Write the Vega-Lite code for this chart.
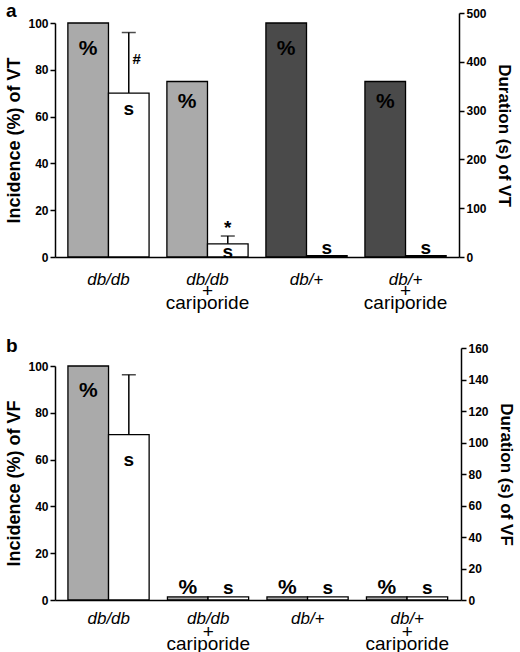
{
  "$schema": "https://vega.github.io/schema/vega-lite/v6.json",
  "background": "white",
  "padding": {"left": 5, "top": 2, "right": 0, "bottom": 0},
  "spacing": 25,
  "config": {
    "view": {"stroke": null},
    "font": "Liberation Sans",
    "axis": {
      "grid": false,
      "domainColor": "black",
      "domainWidth": 1.5,
      "tickColor": "black",
      "tickWidth": 1.5,
      "tickSize": 5,
      "labelColor": "black",
      "labelFont": "Liberation Sans",
      "labelFontWeight": "bold",
      "labelFontSize": 12,
      "titleFont": "Liberation Sans",
      "titleFontWeight": "bold",
      "titleFontSize": 18,
      "titleColor": "black"
    },
    "title": {"font": "Liberation Sans", "fontSize": 19, "fontWeight": "bold", "color": "black", "anchor": "start", "frame": "bounds"}
  },
  "datasets": {
    "a": [
      {"group": "db/db", "series": "Incidence", "value": 100},
      {"group": "db/db", "series": "Duration", "value": 336, "upper": 460, "sig": "#"},
      {"group": "db/db + cariporide", "series": "Incidence", "value": 75},
      {"group": "db/db + cariporide", "series": "Duration", "value": 27, "upper": 43, "sig": "*"},
      {"group": "db/+", "series": "Incidence", "value": 100},
      {"group": "db/+", "series": "Duration", "value": 3},
      {"group": "db/+ + cariporide", "series": "Incidence", "value": 75},
      {"group": "db/+ + cariporide", "series": "Duration", "value": 3}
    ],
    "b": [
      {"group": "db/db", "series": "Incidence", "value": 100},
      {"group": "db/db", "series": "Duration", "value": 105, "upper": 143},
      {"group": "db/db + cariporide", "series": "Incidence", "value": 1.3},
      {"group": "db/db + cariporide", "series": "Duration", "value": 2},
      {"group": "db/+", "series": "Incidence", "value": 1.3},
      {"group": "db/+", "series": "Duration", "value": 2},
      {"group": "db/+ + cariporide", "series": "Incidence", "value": 1.3},
      {"group": "db/+ + cariporide", "series": "Duration", "value": 2}
    ]
  },
  "vconcat": [
    {
      "width": 404,
      "height": 244,
      "title": {"text": "a", "offset": -14},
      "data": {"name": "a"},
      "layer": [
        {
          "transform": [{"filter": "datum.series === 'Incidence'"}],
          "encoding": {
            "x": {"field": "group", "type": "nominal", "sort": ["db/db", "db/db + cariporide", "db/+", "db/+ + cariporide"],
              "scale": {"paddingInner": 0.18, "paddingOuter": 0.13},
              "axis": {"orient": "bottom", "title": null, "ticks": false, "tickSize": 0, "labelAngle": 0, "labelFontStyle": "italic", "labelFontWeight": "normal", "labelFontSize": 17, "labelPadding": 14, "labelExpr": "split(datum.label, ' + ')[0]"}},
            "xOffset": {"field": "series", "type": "nominal", "sort": ["Incidence", "Duration"], "scale": {"paddingInner": 0, "paddingOuter": 0}},
            "y": {"field": "value", "type": "quantitative", "scale": {"domain": [0, 100], "rangeMax": 10},
              "axis": {"orient": "left", "values": [0, 20, 40, 60, 80, 100], "title": "Incidence (%) of VT", "titlePadding": 4, "labelPadding": 2}}
          },
          "layer": [
            {"mark": {"type": "bar", "stroke": "black", "strokeWidth": 1.3},
             "encoding": {"fill": {"field": "group", "type": "nominal", "scale": {"domain": ["db/db", "db/db + cariporide", "db/+", "db/+ + cariporide"], "range": ["#aaaaaa", "#aaaaaa", "#4a4a4a", "#4a4a4a"]}, "legend": null}}},
            {"transform": [{"filter": "datum.value >= 99"}],
             "mark": {"type": "text", "text": "%", "font": "Liberation Sans", "fontSize": 21, "fontWeight": "bold", "baseline": "middle", "dy": 26, "color": "black"}},
            {"transform": [{"filter": "datum.value < 99"}],
             "mark": {"type": "text", "text": "%", "font": "Liberation Sans", "fontSize": 21, "fontWeight": "bold", "baseline": "middle", "dy": 20, "color": "black"}}
          ]
        },
        {
          "transform": [{"filter": "datum.series === 'Duration'"}],
          "encoding": {
            "x": {"field": "group", "type": "nominal", "sort": ["db/db", "db/db + cariporide", "db/+", "db/+ + cariporide"],
              "scale": {"paddingInner": 0.18, "paddingOuter": 0.13},
              "axis": {"orient": "bottom", "title": null, "ticks": false, "tickSize": 0, "domain": false, "labelAngle": 0, "labelFontWeight": "normal", "labelFontSize": 19, "labelLineHeight": 12, "labelPadding": 24, "labelExpr": "indexof(datum.label, 'cariporide') >= 0 ? ['+', 'cariporide'] : ''"}},
            "xOffset": {"field": "series", "type": "nominal", "sort": ["Incidence", "Duration"], "scale": {"paddingInner": 0, "paddingOuter": 0}},
            "y": {"field": "value", "type": "quantitative", "scale": {"domain": [0, 500]},
              "axis": {"orient": "right", "values": [0, 100, 200, 300, 400, 500], "title": "Duration (s) of VT", "titleFontSize": 17, "titlePadding": 8, "labelPadding": 2}}
          },
          "layer": [
            {"mark": {"type": "bar", "fill": "white", "stroke": "black", "strokeWidth": 1.3}},
            {"transform": [{"filter": "isValid(datum.upper)"}],
             "mark": {"type": "rule", "color": "black", "strokeWidth": 1.5},
             "encoding": {"y2": {"field": "upper"}}},
            {"transform": [{"filter": "isValid(datum.upper)"}],
             "mark": {"type": "tick", "orient": "horizontal", "size": 14, "thickness": 1.5, "color": "black"},
             "encoding": {"y": {"field": "upper", "type": "quantitative"}}},
            {"transform": [{"filter": "datum.value > 100"}],
             "mark": {"type": "text", "text": "s", "font": "Liberation Sans", "fontSize": 19, "fontWeight": "bold", "baseline": "middle", "dy": 16, "color": "black"}},
            {"transform": [{"filter": "datum.value > 10 && datum.value <= 100"}],
             "mark": {"type": "text", "text": "s", "font": "Liberation Sans", "fontSize": 19, "fontWeight": "bold", "baseline": "middle", "dy": 8, "color": "black"}},
            {"transform": [{"filter": "datum.value <= 10"}],
             "mark": {"type": "text", "text": "s", "font": "Liberation Sans", "fontSize": 19, "fontWeight": "bold", "baseline": "alphabetic", "dy": -2, "color": "black"}},
            {"transform": [{"filter": "datum.sig === '#'"}],
             "mark": {"type": "text", "font": "Liberation Sans", "fontSize": 15, "fontWeight": "bold", "baseline": "middle", "dx": 8, "dy": -34, "color": "black"},
             "encoding": {"text": {"field": "sig"}}},
            {"transform": [{"filter": "datum.sig === '*'"}],
             "mark": {"type": "text", "font": "Liberation Sans", "fontSize": 19, "fontWeight": "bold", "baseline": "middle", "dy": -8, "color": "black"},
             "encoding": {"y": {"field": "upper", "type": "quantitative"}, "text": {"field": "sig"}}}
          ]
        }
      ],
      "resolve": {"scale": {"y": "independent"}, "axis": {"x": "independent"}}
    },
    {
      "width": 406,
      "height": 252,
      "title": {"text": "b", "offset": -14},
      "data": {"name": "b"},
      "layer": [
        {
          "transform": [{"filter": "datum.series === 'Incidence'"}],
          "encoding": {
            "x": {"field": "group", "type": "nominal", "sort": ["db/db", "db/db + cariporide", "db/+", "db/+ + cariporide"],
              "scale": {"paddingInner": 0.18, "paddingOuter": 0.13},
              "axis": {"orient": "bottom", "title": null, "ticks": false, "tickSize": 0, "labelAngle": 0, "labelFontStyle": "italic", "labelFontWeight": "normal", "labelFontSize": 17, "labelPadding": 10, "labelExpr": "split(datum.label, ' + ')[0]"}},
            "xOffset": {"field": "series", "type": "nominal", "sort": ["Incidence", "Duration"], "scale": {"paddingInner": 0, "paddingOuter": 0}},
            "y": {"field": "value", "type": "quantitative", "scale": {"domain": [0, 100], "rangeMax": 18},
              "axis": {"orient": "left", "values": [0, 20, 40, 60, 80, 100], "title": "Incidence (%) of VF", "titlePadding": 4, "labelPadding": 2}}
          },
          "layer": [
            {"mark": {"type": "bar", "fill": "#aaaaaa", "stroke": "black", "strokeWidth": 1.3}},
            {"transform": [{"filter": "datum.value >= 99"}],
             "mark": {"type": "text", "text": "%", "font": "Liberation Sans", "fontSize": 21, "fontWeight": "bold", "baseline": "middle", "dy": 25, "color": "black"}},
            {"transform": [{"filter": "datum.value < 10"}],
             "mark": {"type": "text", "text": "%", "font": "Liberation Sans", "fontSize": 21, "fontWeight": "bold", "baseline": "alphabetic", "dy": -3, "color": "black"}}
          ]
        },
        {
          "transform": [{"filter": "datum.series === 'Duration'"}],
          "encoding": {
            "x": {"field": "group", "type": "nominal", "sort": ["db/db", "db/db + cariporide", "db/+", "db/+ + cariporide"],
              "scale": {"paddingInner": 0.18, "paddingOuter": 0.13},
              "axis": {"orient": "bottom", "title": null, "ticks": false, "tickSize": 0, "domain": false, "labelAngle": 0, "labelFontWeight": "normal", "labelFontSize": 19, "labelLineHeight": 12, "labelPadding": 22, "labelExpr": "indexof(datum.label, 'cariporide') >= 0 ? ['+', 'cariporide'] : ''"}},
            "xOffset": {"field": "series", "type": "nominal", "sort": ["Incidence", "Duration"], "scale": {"paddingInner": 0, "paddingOuter": 0}},
            "y": {"field": "value", "type": "quantitative", "scale": {"domain": [0, 160]},
              "axis": {"orient": "right", "values": [0, 20, 40, 60, 80, 100, 120, 140, 160], "title": "Duration (s) of VF", "titleFontSize": 17, "titlePadding": 8, "labelPadding": 2}}
          },
          "layer": [
            {"mark": {"type": "bar", "fill": "white", "stroke": "black", "strokeWidth": 1.3}},
            {"transform": [{"filter": "isValid(datum.upper)"}],
             "mark": {"type": "rule", "color": "black", "strokeWidth": 1.5},
             "encoding": {"y2": {"field": "upper"}}},
            {"transform": [{"filter": "isValid(datum.upper)"}],
             "mark": {"type": "tick", "orient": "horizontal", "size": 14, "thickness": 1.5, "color": "black"},
             "encoding": {"y": {"field": "upper", "type": "quantitative"}}},
            {"transform": [{"filter": "datum.value > 10"}],
             "mark": {"type": "text", "text": "s", "font": "Liberation Sans", "fontSize": 19, "fontWeight": "bold", "baseline": "middle", "dy": 25, "color": "black"}},
            {"transform": [{"filter": "datum.value <= 10"}],
             "mark": {"type": "text", "text": "s", "font": "Liberation Sans", "fontSize": 19, "fontWeight": "bold", "baseline": "alphabetic", "dy": -3, "color": "black"}}
          ]
        }
      ],
      "resolve": {"scale": {"y": "independent"}, "axis": {"x": "independent"}}
    }
  ]
}
